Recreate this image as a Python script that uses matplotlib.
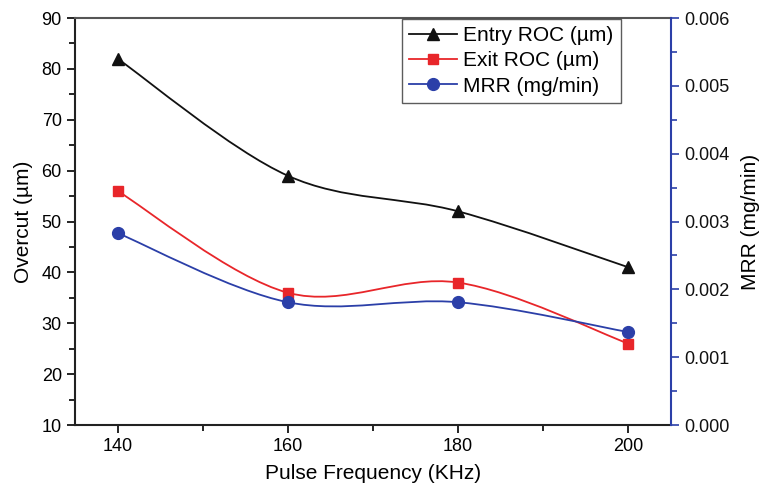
import matplotlib
matplotlib.use("Agg")
import matplotlib.pyplot as plt
import numpy as np
from matplotlib.path import Path
from matplotlib.patches import PathPatch
from matplotlib.lines import Line2D
from matplotlib.ticker import MultipleLocator, FormatStrFormatter

plt.rcParams["font.family"] = ["Liberation Sans", "DejaVu Sans"]

freq = [140, 160, 180, 200]
entry_roc = [82, 59, 52, 41]
exit_roc = [56, 36, 38, 26]
mrr = [0.00283, 0.00181, 0.00181, 0.00137]

BLACK = "#111111"
RED = "#e8262a"
BLUE = "#2b3fa8"


def smooth_path(ax, xs, ys, color):
    """Catmull-Rom curve through the points, drawn as a bezier path."""
    p = np.column_stack([xs, ys]).astype(float)
    pad = np.vstack([p[0], p, p[-1]])
    verts = [tuple(p[0])]
    codes = [Path.MOVETO]
    for i in range(len(p) - 1):
        p0, p1, p2, p3 = pad[i], pad[i + 1], pad[i + 2], pad[i + 3]
        c1 = p1 + (p2 - p0) / 6
        c2 = p2 - (p3 - p1) / 6
        verts += [tuple(c1), tuple(c2), tuple(p2)]
        codes += [Path.CURVE4] * 3
    ax.add_patch(PathPatch(Path(verts, codes), fc="none", ec=color, lw=1.3))


fig = plt.figure(figsize=(7.63, 4.95), dpi=100)
ax = fig.add_axes([0.0983, 0.1414, 0.7811, 0.8222])
ax2 = ax.twinx()

smooth_path(ax, freq, entry_roc, BLACK)
smooth_path(ax, freq, exit_roc, RED)
smooth_path(ax2, freq, mrr, BLUE)
ax.plot(freq, entry_roc, ls="none", marker="^", ms=9, color=BLACK)
ax.plot(freq, exit_roc, ls="none", marker="s", ms=7.5, color=RED)
ax2.plot(freq, mrr, ls="none", marker="o", ms=8.5, color=BLUE)

ax.set_xlim(135, 205)
ax.set_ylim(10, 90)
ax2.set_ylim(0, 0.006)

ax.xaxis.set_major_locator(MultipleLocator(20))
ax.xaxis.set_minor_locator(MultipleLocator(10))
ax.yaxis.set_major_locator(MultipleLocator(10))
ax.yaxis.set_minor_locator(MultipleLocator(5))
ax2.yaxis.set_major_locator(MultipleLocator(0.001))
ax2.yaxis.set_minor_locator(MultipleLocator(0.0005))
ax2.yaxis.set_major_formatter(FormatStrFormatter("%.3f"))

for a in (ax, ax2):
    a.tick_params(which="major", direction="out", length=6, width=1.2, labelsize=13)
    a.tick_params(which="minor", direction="out", length=4, width=1.2)

ax2.tick_params(axis="y", which="both", colors=BLUE, labelcolor=BLACK)
ax2.spines["right"].set_color(BLUE)
ax2.spines["right"].set_linewidth(1.5)
ax2.spines["top"].set_visible(False)
ax2.spines["left"].set_visible(False)
ax2.spines["bottom"].set_visible(False)
ax.spines["right"].set_visible(False)
for s in ("left", "bottom", "top"):
    ax.spines[s].set_linewidth(1.5)
    ax.spines[s].set_color("#222222")
ax.spines["top"].set_color("#555555")

ax.set_xlabel("Pulse Frequency (KHz)", fontsize=15, labelpad=6)
ax.set_ylabel("Overcut (µm)", fontsize=15, labelpad=6)
ax2.set_ylabel("MRR (mg/min)", fontsize=15, labelpad=8)

handles = [
    Line2D([], [], color=BLACK, marker="^", ms=9, lw=1.3),
    Line2D([], [], color=RED, marker="s", ms=7.5, lw=1.3),
    Line2D([], [], color=BLUE, marker="o", ms=8.5, lw=1.3),
]
labels = ["Entry ROC (µm)", "Exit ROC (µm)", "MRR (mg/min)"]
leg = ax2.legend(handles, labels, loc="upper left", bbox_to_anchor=(0.5487, 0.998),
                 fontsize=15, frameon=True, fancybox=False, edgecolor="#333333",
                 handlelength=2.3, handletextpad=0.3, borderpad=0.35,
                 labelspacing=0.3, borderaxespad=0.0)
leg.get_frame().set_linewidth(1.0)

fig.savefig("out.png", dpi=100)
